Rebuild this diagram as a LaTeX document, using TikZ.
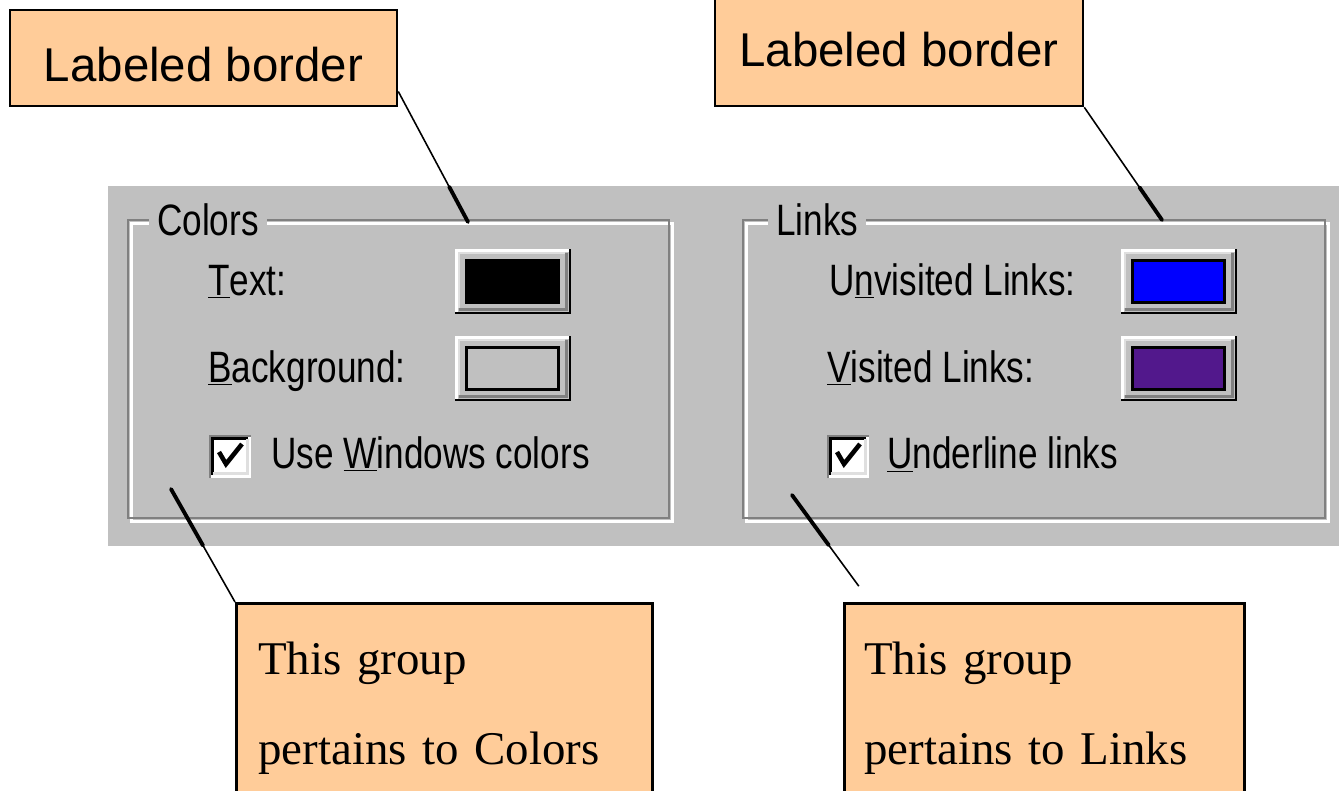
\documentclass[tikz,border=0pt]{standalone}
\usepackage{fontspec}
\setmainfont{Liberation Serif}
\setsansfont{Liberation Sans}
\newfontfamily\dlgfont[FakeStretch=0.8]{Liberation Sans}
\usetikzlibrary{calc, positioning}
\definecolor{panel}{RGB}{192,192,192}
\definecolor{edgegrey}{RGB}{128,128,128}
\definecolor{lightedge}{RGB}{223,223,223}
\definecolor{peach}{RGB}{255,204,153}
\definecolor{linkblue}{RGB}{0,0,255}
\definecolor{linkpurple}{RGB}{82,24,140}

\begin{document}
\begin{tikzpicture}[x=0.02cm, y=-0.02cm,
    callout/.style={rectangle, draw=black, line width=1.5pt, fill=peach},
    dlg/.style={font=\dlgfont\fontsize{25}{30}\selectfont, inner sep=0pt, anchor=base west},
    grptitle/.style={dlg, fill=panel, inner xsep=4.5pt},
    leader/.style={line width=0.9pt},
    leaderthick/.style={line width=2.2pt, line cap=round}]

            % page size
            \useasboundingbox (0,0) rectangle (1339,791);
            \clip (0,0) rectangle (1339,791);

            % grey dialog panel
            \fill[panel] (108,186) rectangle (1339,546);

            % etched group frames
            \draw[white, line width=1.4pt] (131.5,223.5) rectangle (672.5,521.5);
            \draw[edgegrey, line width=1.4pt] (128,220) rectangle (669,518);
            \draw[white, line width=1.4pt] (746.5,223.5) rectangle (1328.5,521.5);
            \draw[edgegrey, line width=1.4pt] (743,220) rectangle (1325,518);

            % group titles
            \node[grptitle] (colorsTitle) at (149,235) {Colors};
            \node[grptitle] (linksTitle) at (768,235) {Links};

            % field labels
            \node[dlg] (textLbl) at (208,295) {\underline{T}ext:};
            \node[dlg] (bgLbl) at (208,382) {\underline{B}ackground:};
            \node[dlg] (useWin) at (271,468) {Use \underline{W}indows colors};
            \node[dlg] (unvLbl) at (829,295) {U\underline{n}visited Links:};
            \node[dlg] (visLbl) at (827,382) {\underline{V}isited Links:};
            \node[dlg] (undLbl) at (887,468) {\underline{U}nderline links};

            % colour buttons
            \foreach \bx/\by/\bc in {455/249/black, 455/336/panel, 1121/249/linkblue, 1121/336/linkpurple}{
                \fill[panel] (\bx,\by) rectangle ++(116,65);
                \draw[white, line width=1.7pt] (\bx+1.5,\by+63) -- (\bx+1.5,\by+1.5) -- (\bx+114,\by+1.5);
                \draw[black, line width=1.2pt] (\bx,\by+64) -- (\bx+115,\by+64) -- (\bx+115,\by);
                \draw[edgegrey, line width=1.7pt] (\bx+4,\by+60.5) -- (\bx+111.5,\by+60.5) -- (\bx+111.5,\by+4);
                \draw[lightedge, line width=1.2pt] (\bx+4,\by+59) -- (\bx+4,\by+4) -- (\bx+110,\by+4);
                \filldraw[fill=\bc, draw=black, line width=1.7pt] (\bx+11.5,\by+11.5) rectangle (\bx+103.5,\by+53.5);
            }

            % check boxes
            \foreach \cx/\cy in {209/435, 827/435}{
                \fill[white] (\cx,\cy) rectangle ++(42,43);
                \draw[edgegrey, line width=1.4pt] (\cx+1.2,\cy+43) -- (\cx+1.2,\cy+1.2) -- (\cx+42,\cy+1.2);
                \draw[black, line width=1.4pt] (\cx+3.7,\cy+40) -- (\cx+3.7,\cy+3.7) -- (\cx+39,\cy+3.7);
                \draw[lightedge, line width=1.4pt] (\cx+3.7,\cy+38.5) -- (\cx+38.5,\cy+38.5) -- (\cx+38.5,\cy+3.7);
                \draw[black, line width=2.6pt] (\cx+10,\cy+17) -- (\cx+17,\cy+29) -- (\cx+33,\cy+9);
            }

            % callouts
            \node[callout, font=\sffamily\fontsize{27}{32}\selectfont, minimum width=7.74cm, minimum height=1.92cm, text height=27pt] (lblA) at (203.5,58) {Labeled border};
            \node[callout, font=\sffamily\fontsize{27}{32}\selectfont, minimum width=7.36cm, minimum height=2.24cm] (lblB) at (899,50) {Labeled border};
            \node[callout, anchor=north west, font=\fontsize{26.7}{51}\selectfont, align=left, text width=7.44cm, inner xsep=0.44cm, inner ysep=22pt] (grpA) at (235,602) {This group\\pertains to Colors};
            \node[callout, anchor=north west, font=\fontsize{26.7}{51}\selectfont, align=left, text width=7.2cm, inner xsep=0.4cm, inner ysep=22pt] (grpB) at (843,602) {This group\\pertains to Links};

            % leader lines
            \coordinate (fromA) at ([yshift=9pt]lblA.south east);
            \coordinate (tipA) at (468,222);
            \draw[leader] (fromA) -- (tipA);
            \draw[leaderthick] ($(fromA)!0.73!(tipA)$) -- (tipA);

            \coordinate (tipB) at (1162,220);
            \draw[leader] (lblB.south east) -- (tipB);
            \draw[leaderthick] ($(lblB.south east)!0.71!(tipB)$) -- (tipB);

            \coordinate (tipC) at (171,489);
            \draw[leader] (tipC) -- (grpA.north west);
            \draw[leaderthick] (tipC) -- ($(tipC)!0.5!(grpA.north west)$);

            \coordinate (tipD) at (792,495);
            \coordinate (endD) at ([xshift=9pt, yshift=9pt]grpB.north west);
            \draw[leader] (tipD) -- (endD);
            \draw[leaderthick] (tipD) -- ($(tipD)!0.55!(endD)$);

\end{tikzpicture}
\end{document}
